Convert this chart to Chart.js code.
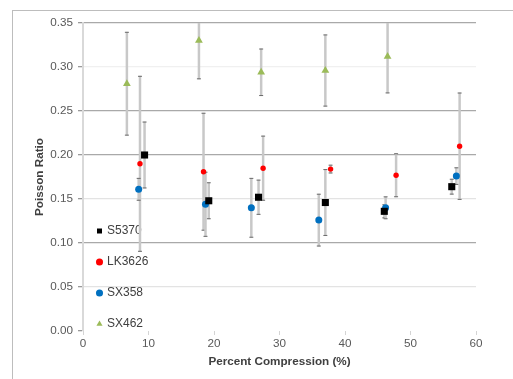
<!DOCTYPE html>
<html>
<head>
<meta charset="utf-8">
<script src="https://cdn.jsdelivr.net/npm/chart.js@4"></script>
<style>
  body { margin: 0; background: #fff; }
  #frame { position: absolute; left: 12px; top: 10px; width: 520px; height: 380px;
           border-top: 1px solid #bdbdbd; border-left: 1px solid #bdbdbd; }
  #wrap { position: absolute; left: 0; top: 0; width: 513px; height: 379px; }
</style>
</head>
<body>
<div id="frame"></div>
<div id="wrap"><canvas id="chart" width="513" height="379"></canvas></div>
<script>
// Poisson ratio vs percent compression, mean +/- error for each material

const compressionS5370 = [9.4, 19.2, 26.8, 37.0, 46.0, 56.3];
const ratioS5370 = [0.200, 0.148, 0.152, 0.146, 0.136, 0.164];
const errorS5370 = [0.038, 0.021, 0.020, 0.038, 0.008, 0.009];

const compressionLK3626 = [8.7, 18.4, 27.5, 37.8, 47.8, 57.5];
const ratioLK3626 = [0.190, 0.181, 0.185, 0.184, 0.177, 0.210];
const errorLK3626 = [0.100, 0.067, 0.037, 0.005, 0.025, 0.061];

const compressionSX358 = [8.5, 18.7, 25.7, 36.0, 46.2, 57.0];
const ratioSX358 = [0.161, 0.144, 0.140, 0.126, 0.140, 0.176];
const errorSX358 = [0.013, 0.037, 0.034, 0.030, 0.013, 0.010];

const compressionSX462 = [6.7, 17.7, 27.2, 37.0, 46.5];
const ratioSX462 = [0.281, 0.330, 0.294, 0.296, 0.312];
const errorSX462 = [0.059, 0.044, 0.027, 0.041, 0.042];

const textFont = 'Liberation Sans, Arial, sans-serif';

function points(xs, ys) {
    return xs.map((x, i) => ({ x: x, y: ys[i] }));
}

// draws vertical error bars behind the markers, clipped to the plot area
const errorBars = {
    id: 'errorBars',
    beforeDatasetsDraw(chart) {
        const { ctx, chartArea, scales: { x, y } } = chart;
        ctx.save();
        ctx.beginPath();
        ctx.rect(chartArea.left, chartArea.top, chartArea.width, chartArea.height);
        ctx.clip();
        chart.data.datasets.forEach(ds => {
            ds.data.forEach((p, j) => {
                const px = x.getPixelForValue(p.x);
                const top = y.getPixelForValue(p.y + ds.errorBars[j]);
                const bottom = y.getPixelForValue(p.y - ds.errorBars[j]);
                ctx.strokeStyle = '#c8c8c8';
                ctx.lineWidth = 2.5;
                ctx.beginPath();
                ctx.moveTo(px, top);
                ctx.lineTo(px, bottom);
                ctx.stroke();
                ctx.strokeStyle = '#6b6b6b';
                ctx.lineWidth = 1;
                ctx.beginPath();
                ctx.moveTo(px - 2, top + 0.5);
                ctx.lineTo(px + 2, top + 0.5);
                ctx.moveTo(px - 2, bottom - 0.5);
                ctx.lineTo(px + 2, bottom - 0.5);
                ctx.stroke();
            });
        });
        ctx.restore();
    }
};

// move the legend into the lower left of the plot area
const legendPlace = {
    id: 'legendPlace',
    afterLayout(chart) {
        const lg = chart.legend;
        lg.left = 79;
        lg.top = 206;
        lg.bottom = 420;
    }
};

function gridColor(ctx) {
    const v = Math.round(ctx.tick.value * 100);
    if (v === 0) return 'rgba(0,0,0,0)';
    if (v === 30) return '#f0f0f0';
    if (v === 15 || v === 5) return '#e3e3e3';
    return '#a9a9a9';
}

new Chart(document.getElementById('chart'), {
    type: 'scatter',
    data: {
        datasets: [{
            label: 'S5370',
            data: points(compressionS5370, ratioS5370),
            errorBars: errorS5370,
            pointStyle: 'rect',
            pointRadius: 5,
            backgroundColor: '#000000',
            borderColor: '#000000',
            borderWidth: 0,
        }, {
            label: 'LK3626',
            data: points(compressionLK3626, ratioLK3626),
            errorBars: errorLK3626,
            pointStyle: 'circle',
            pointRadius: 2.7,
            backgroundColor: '#ff0000',
            borderColor: '#ff0000',
            borderWidth: 0,
        }, {
            label: 'SX358',
            data: points(compressionSX358, ratioSX358),
            errorBars: errorSX358,
            pointStyle: 'circle',
            pointRadius: 3.5,
            backgroundColor: '#0070c0',
            borderColor: '#0070c0',
            borderWidth: 0,
        }, {
            label: 'SX462',
            data: points(compressionSX462, ratioSX462),
            errorBars: errorSX462,
            pointStyle: 'triangle',
            pointRadius: 4.5,
            backgroundColor: '#9bbb59',
            borderColor: '#9bbb59',
            borderWidth: 0,
        }]
    },
    options: {
        responsive: false,
        animation: false,
        layout: { padding: { left: 20, right: 37, top: 23, bottom: 0 } },
        plugins: {
            tooltip: { enabled: false },
            legend: {
                position: 'chartArea',
                align: 'start',
                labels: {
                    usePointStyle: true,
                    boxWidth: 3,
                    boxHeight: 5,
                    padding: 19,
                    color: '#404040',
                    font: { family: textFont, size: 12 },
                }
            }
        },
        scales: {
            x: {
                min: 0,
                max: 60,
                afterFit(scale) { scale.height = 48; },
                ticks: { stepSize: 10, padding: 2, color: '#595959', font: { family: textFont, size: 11.7 } },
                grid: { drawOnChartArea: false, drawTicks: true, tickLength: 4, tickColor: '#d4d4d4' },
                border: { display: false },
                title: {
                    display: true,
                    text: 'Percent Compression (%)',
                    color: '#404040',
                    font: { family: textFont, size: 11.7, weight: 'bold' },
                    padding: { top: 0, bottom: 10 },
                }
            },
            y: {
                min: 0,
                max: 0.35,
                afterFit(scale) { scale.width = 63; },
                ticks: {
                    stepSize: 0.05,
                    padding: 5,
                    color: '#595959',
                    font: { family: textFont, size: 11.7 },
                    callback: v => v.toFixed(2),
                },
                grid: { color: gridColor, lineWidth: 1.3, tickLength: 5, tickColor: '#9a9a9a' },
                border: { display: true, color: '#d9d9d9', width: 2 },
                title: {
                    display: true,
                    text: 'Poisson Ratio',
                    color: '#404040',
                    font: { family: textFont, size: 11.7, weight: 'bold' },
                    padding: { top: 13, bottom: 0 },
                }
            }
        }
    },
    plugins: [errorBars, legendPlace]
});
</script>
</body>
</html>
